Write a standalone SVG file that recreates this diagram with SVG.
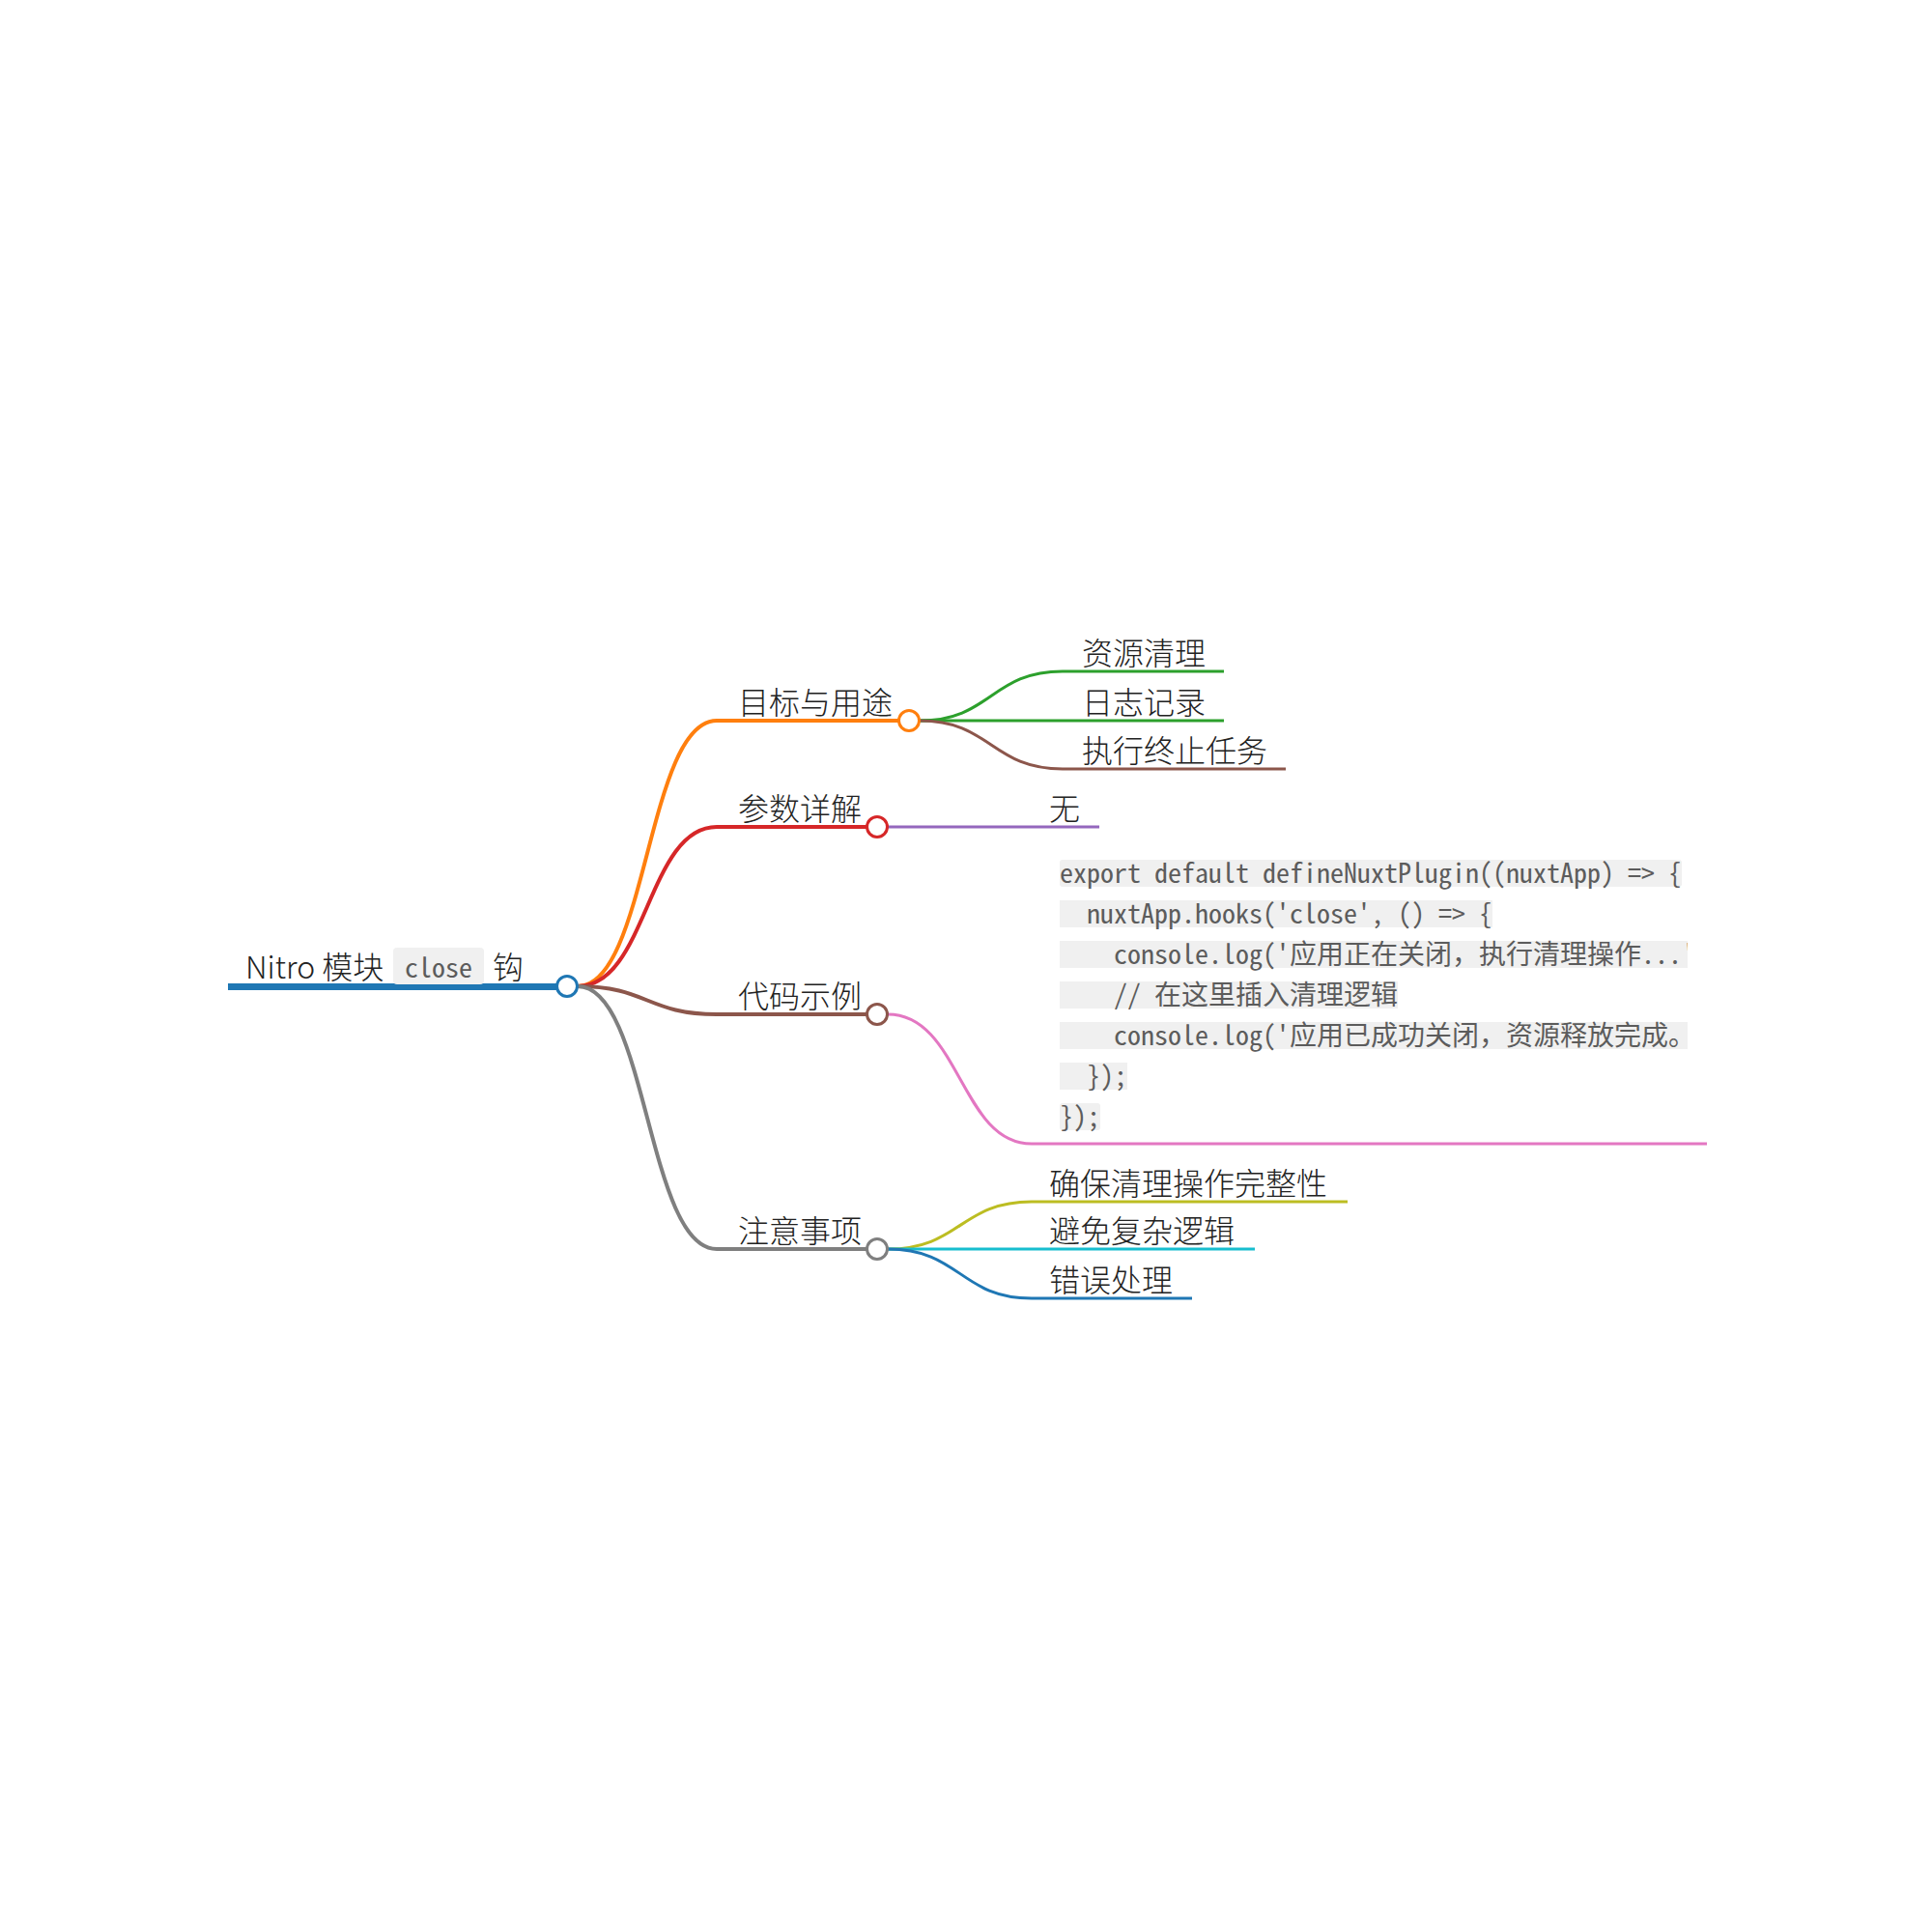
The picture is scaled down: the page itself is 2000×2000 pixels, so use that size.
<svg xmlns="http://www.w3.org/2000/svg" width="2000" height="2000" viewBox="0 0 2000 2000">
<style>
.t{font-family:"Noto Sans CJK SC","Noto Sans",sans-serif;font-size:32px;font-weight:300;fill:#222;}
.m{font-family:"Noto Sans Mono CJK SC","Liberation Mono","Noto Sans CJK SC",monospace;font-size:28px;font-weight:300;fill:#5c5c5c;white-space:pre;}
.bg{fill:#f0f0f0;}
.lk{fill:none;}
.c{fill:#fff;stroke-width:3;}
</style>
<defs>
<clipPath id="cc"><rect x="1090" y="880" width="657" height="300"/></clipPath>
</defs>
<rect width="2000" height="2000" fill="#fff"/>
<g id="connectors">
<path class="lk" stroke="#ff7f0e" stroke-width="4" d="M598 1021 C670 1021 670 746 742 746 L930 746"/>
<path class="lk" stroke="#d62728" stroke-width="4" d="M598 1021 C670 1021 670 856 742 856 L898 856"/>
<path class="lk" stroke="#8c564b" stroke-width="4" d="M598 1021 C670 1021 670 1050 742 1050 L898 1050"/>
<path class="lk" stroke="#7f7f7f" stroke-width="4" d="M598 1021 C670 1021 670 1293 742 1293 L898 1293"/>
<path class="lk" stroke="#2ca02c" stroke-width="3" d="M952 746 C1026 746 1026 695 1100 695 L1267 695"/>
<path class="lk" stroke="#2ca02c" stroke-width="3" d="M952 746 L1267 746"/>
<path class="lk" stroke="#8c564b" stroke-width="3" d="M952 746 C1026 746 1026 796 1100 796 L1331 796"/>
<path class="lk" stroke="#9467bd" stroke-width="3" d="M919 856 L1138 856"/>
<path class="lk" stroke="#e377c2" stroke-width="3" d="M919 1050 C994 1050 994 1184 1068 1184 L1767 1184"/>
<path class="lk" stroke="#bcbd22" stroke-width="3" d="M919 1293 C994 1293 994 1244 1068 1244 L1395 1244"/>
<path class="lk" stroke="#17becf" stroke-width="3" d="M919 1293 L1299 1293"/>
<path class="lk" stroke="#1f77b4" stroke-width="3" d="M919 1293 C994 1293 994 1344 1068 1344 L1234 1344"/>
</g>
<g id="root">
<rect x="236" y="1018" width="341" height="7" fill="#1f77b4"/>
<text class="t" x="254" y="1013">Nitro 模块</text>
<rect class="bg" x="407" y="981" width="94" height="38" rx="4"/>
<text class="m" x="419" y="1012">close</text>
<text class="t" x="510" y="1013">钩</text>
<circle class="c" cx="587" cy="1021" r="10.5" stroke="#1f77b4"/>
</g>
<g id="n-goal">
<text class="t" x="764" y="739">目标与用途</text>
<circle class="c" cx="941" cy="746" r="10.5" stroke="#ff7f0e"/>
</g>
<g id="n-goal-1"><text class="t" x="1120" y="688">资源清理</text></g>
<g id="n-goal-2"><text class="t" x="1120" y="739">日志记录</text></g>
<g id="n-goal-3"><text class="t" x="1120" y="789">执行终止任务</text></g>
<g id="n-param">
<text class="t" x="764" y="849">参数详解</text>
<circle class="c" cx="908" cy="856" r="10.5" stroke="#d62728"/>
</g>
<g id="n-param-1"><text class="t" x="1086" y="849">无</text></g>
<g id="n-code">
<text class="t" x="764" y="1043">代码示例</text>
<circle class="c" cx="908" cy="1050" r="10.5" stroke="#8c564b"/>
</g>
<g id="n-code-1">
<rect class="bg" x="1097" y="890" width="644" height="28" rx="3"/>
<rect class="bg" x="1097" y="932" width="448" height="28"/>
<rect class="bg" x="1097" y="974" width="650" height="28"/>
<rect class="bg" x="1097" y="1016" width="350" height="28"/>
<rect class="bg" x="1097" y="1058" width="650" height="28"/>
<rect class="bg" x="1097" y="1100" width="70" height="28"/>
<rect class="bg" x="1097" y="1142" width="42" height="28" rx="3"/>
<g clip-path="url(#cc)">
<text class="m" x="1097" y="914">export default defineNuxtPlugin((nuxtApp) =&gt; {</text>
<text class="m" x="1097" y="956">  nuxtApp.hooks('close', () =&gt; {</text>
<text class="m" x="1097" y="998">    console.log('应用正在关闭，执行清理操作...'</text>
<text class="m" x="1097" y="1040">    // 在这里插入清理逻辑</text>
<text class="m" x="1097" y="1082">    console.log('应用已成功关闭，资源释放完成。</text>
<text class="m" x="1097" y="1124">  });</text>
<text class="m" x="1097" y="1166">});</text>
</g>
</g>
<g id="n-note">
<text class="t" x="764" y="1286">注意事项</text>
<circle class="c" cx="908" cy="1293" r="10.5" stroke="#7f7f7f"/>
</g>
<g id="n-note-1"><text class="t" x="1086" y="1237">确保清理操作完整性</text></g>
<g id="n-note-2"><text class="t" x="1086" y="1286">避免复杂逻辑</text></g>
<g id="n-note-3"><text class="t" x="1086" y="1337">错误处理</text></g>
</svg>
